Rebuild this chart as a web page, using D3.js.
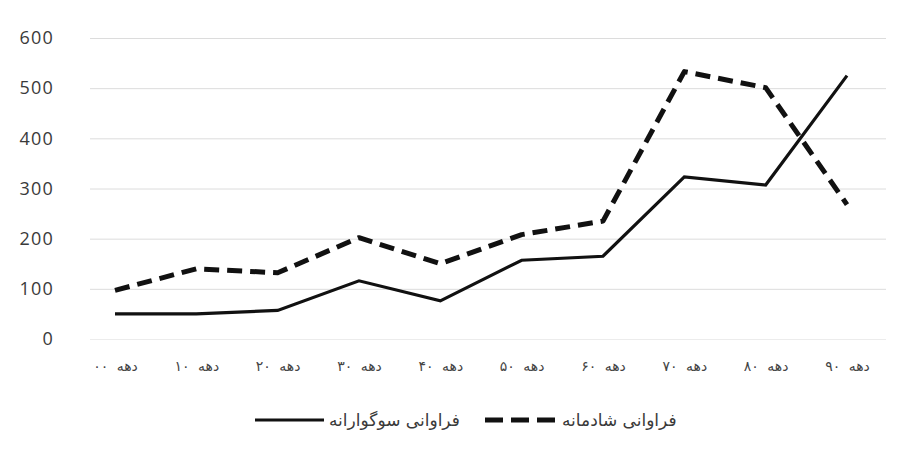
<!DOCTYPE html>
<html>
<head>
<meta charset="utf-8">
<script src="https://cdn.jsdelivr.net/npm/d3@7"></script>
<style>
  html, body { margin: 0; padding: 0; background: #fff; }
  svg { display: block; }
</style>
</head>
<body>
<div id="chart"></div>
<script>
// Data
const categories = ["دهه ۰۰", "دهه ۱۰", "دهه ۲۰", "دهه ۳۰", "دهه ۴۰", "دهه ۵۰", "دهه ۶۰", "دهه ۷۰", "دهه ۸۰", "دهه ۹۰"];
const mourningValues = [50, 50, 57, 116, 76, 157, 165, 323, 307, 525];   // فراوانی سوگوارانه (solid)
const joyfulValues   = [97, 140, 132, 202, 150, 208, 235, 533, 501, 268]; // فراوانی شادمانه (dashed)
const yTicks = [0, 100, 200, 300, 400, 500, 600];
const seriesNames = ["فراوانی سوگوارانه", "فراوانی شادمانه"];

const W = 906, H = 450;
const svg = d3.select("#chart").append("svg").attr("width", W).attr("height", H);

const gridLeft = 90, gridRight = 886;
const x = d3.scalePoint().domain(categories).range([115, 847]);
const y = d3.scaleLinear().domain([0, 600]).range([339, 38]);

// Y axis with gridlines
const yAxis = d3.axisLeft(y).tickValues(yTicks).tickSize(-(gridRight - gridLeft)).tickPadding(36);
const gy = svg.append("g").attr("transform", `translate(${gridLeft},0)`).call(yAxis);
gy.select(".domain").remove();
gy.selectAll(".tick line").attr("stroke", "#dcdcdc").attr("stroke-width", 1)
  .filter(d => d === 0).attr("stroke", "#ececec");
gy.selectAll(".tick text")
  .attr("fill", "#3a3a3a")
  .style("font-family", "'Open Sans', 'DejaVu Sans', sans-serif")
  .style("font-size", "18px")
  .style("letter-spacing", "1.2px");

// X axis labels
const xAxis = d3.axisBottom(x).tickSize(0).tickPadding(0);
const gx = svg.append("g").attr("transform", `translate(0,361)`).call(xAxis);
gx.select(".domain").remove();
gx.selectAll(".tick text")
  .attr("fill", "#444")
  .attr("dy", "0.7em")
  .style("font-family", "'DejaVu Sans', sans-serif")
  .style("font-size", "14px")
  .style("word-spacing", "4px");

// Lines
const line = d3.line().x((d, i) => x(categories[i])).y(d => y(d));

svg.append("path").datum(mourningValues)
  .attr("d", line).attr("fill", "none")
  .attr("stroke", "#111").attr("stroke-width", 3.2)
  .attr("stroke-linejoin", "miter");

svg.append("path").datum(joyfulValues)
  .attr("d", line).attr("fill", "none")
  .attr("stroke", "#111").attr("stroke-width", 5)
  .attr("stroke-dasharray", "15,8")
  .attr("stroke-linejoin", "round");

// Legend
const legend = svg.append("g");
const legendItems = [
  { name: seriesNames[0], x1: 255, x2: 324, tx: 329, dash: null, w: 3.2 },
  { name: seriesNames[1], x1: 485, x2: 555, tx: 562, dash: "18,8", w: 5 }
];
legendItems.forEach(it => {
  legend.append("line")
    .attr("x1", it.x1).attr("x2", it.x2).attr("y1", 420).attr("y2", 420)
    .attr("stroke", "#111").attr("stroke-width", it.w)
    .attr("stroke-dasharray", it.dash);
  legend.append("text")
    .attr("x", it.tx).attr("y", 420).attr("dy", "0.35em")
    .attr("text-anchor", "start")
    .attr("fill", "#3a3a3a")
    .style("font-family", "'DejaVu Sans', sans-serif")
    .style("font-size", "17px")
    .text(it.name);
});
</script>
</body>
</html>
